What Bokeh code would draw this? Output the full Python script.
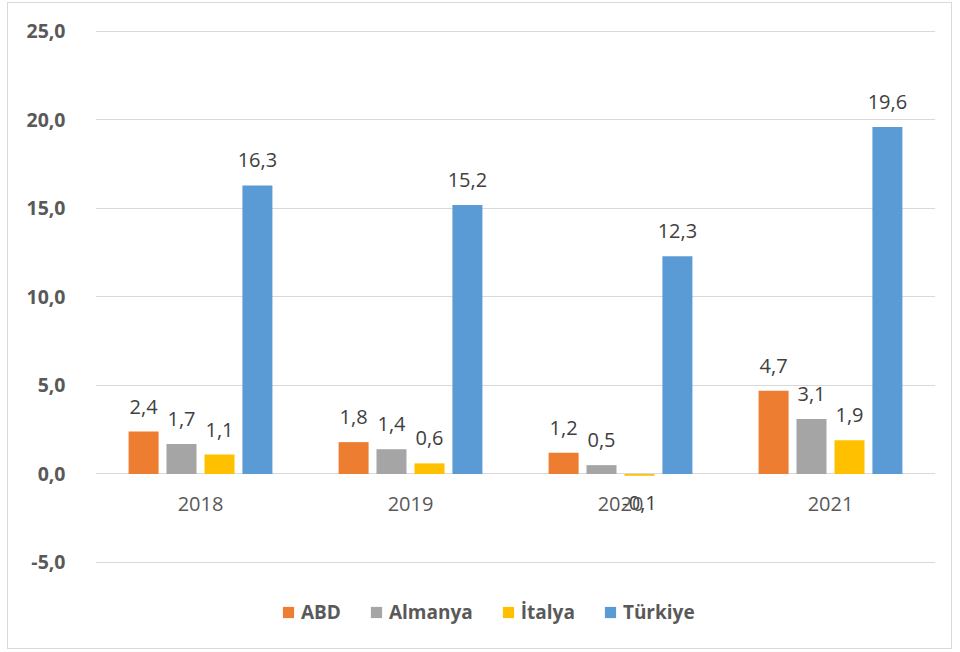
from bokeh.plotting import figure
from bokeh.models import ColumnDataSource, Range1d, FactorRange, FixedTicker
from bokeh.transform import dodge
from bokeh.core.properties import value
from bokeh.embed import file_html
from bokeh.resources import INLINE

years = ["2018", "2019", "2020", "2021"]
series = ["ABD", "Almanya", "İtalya", "Türkiye"]
abd = [2.4, 1.8, 1.2, 4.7]
almanya = [1.7, 1.4, 0.5, 3.1]
italya = [1.1, 0.6, -0.1, 1.9]
turkiye = [16.3, 15.2, 12.3, 19.6]
colors = ["#ED7D31", "#A5A5A5", "#FFC000", "#5B9BD5"]
y_ticks = [-5, 0, 5, 10, 15, 20, 25]
y_tick_labels = ["-5,0", "0,0", "5,0", "10,0", "15,0", "20,0", "25,0"]

FONT = "Open Sans"

p = figure(width=945, height=647, x_range=FactorRange(*years),
           y_range=Range1d(-9.52, 25.96), output_backend="svg",
           toolbar_location=None, min_border_left=87, min_border_right=18,
           min_border_top=11, min_border_bottom=8)
p.styles = {"border": "1px solid #D9D9D9", "box-sizing": "border-box",
            "margin-left": "7px", "margin-top": "2px"}
p.outline_line_color = None
p.xaxis.visible = False
p.xgrid.grid_line_color = None
p.ygrid.ticker = FixedTicker(ticks=y_ticks)
p.ygrid.grid_line_color = "#D9D9D9"
p.ygrid.grid_line_width = 1

p.yaxis.ticker = FixedTicker(ticks=y_ticks)
p.yaxis.major_label_overrides = {t: l for t, l in zip(y_ticks, y_tick_labels)}
p.yaxis.axis_line_color = None
p.yaxis.major_tick_line_color = None
p.yaxis.minor_tick_line_color = None
p.yaxis.major_label_standoff = 24
p.yaxis.major_label_text_font = FONT
p.yaxis.major_label_text_font_style = "bold"
p.yaxis.major_label_text_font_size = "19.5px"
p.yaxis.major_label_text_color = "#595959"

offsets = [-0.271, -0.0905, 0.0905, 0.271]
all_vals = [abd, almanya, italya, turkiye]
for name, vals, col, off in zip(series, all_vals, colors, offsets):
    src = ColumnDataSource(dict(
        year=years, val=vals,
        lbl=[f"{v:.1f}".replace(".", ",") for v in vals],
        yoff=[-25 if v >= 0 else 27 for v in vals],
    ))
    xs = dodge("year", off, range=p.x_range)
    p.vbar(x=xs, top="val", bottom=0, width=0.1429, source=src,
           fill_color=col, line_color=None, legend_label=name)
    p.text(x=xs, y="val", text="lbl", y_offset="yoff", source=src,
           text_align="center", text_baseline="middle",
           text_font=value(FONT), text_font_size="20px", text_color="#404040")

cat_src = ColumnDataSource(dict(year=years, y=[0] * len(years)))
p.text(x="year", y="y", text="year", source=cat_src, y_offset=30,
       text_align="center", text_baseline="middle",
       text_font=value(FONT), text_font_size="20px", text_color="#595959")

lg = p.legend[0]
lg.orientation = "horizontal"
lg.location = (186, 17)
lg.padding = 0
lg.margin = 0
lg.border_line_color = None
lg.background_fill_alpha = 0
lg.spacing = 28
lg.glyph_width = 14
lg.glyph_height = 14
lg.label_standoff = 6
lg.label_height = 20
lg.label_text_font = FONT
lg.label_text_font_style = "bold"
lg.label_text_font_size = "19px"
lg.label_text_color = "#595959"

open("out.html", "w").write(file_html(p, INLINE))
